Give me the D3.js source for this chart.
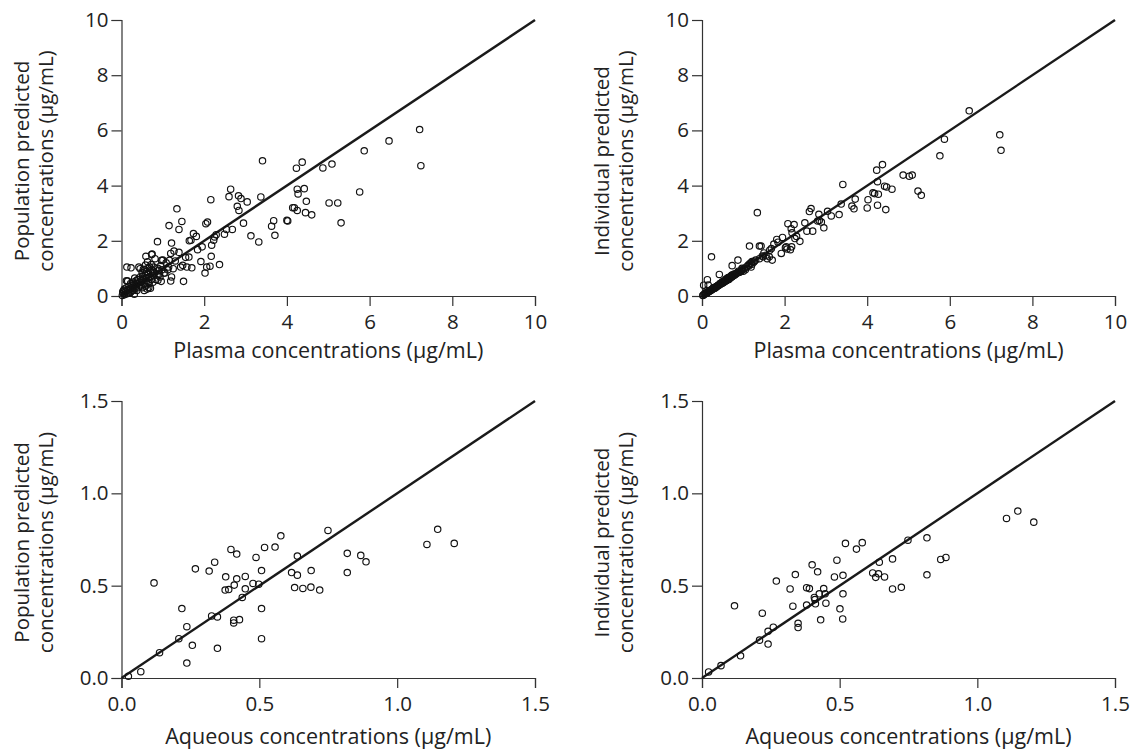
<!DOCTYPE html>
<html lang="en">
<head>
<meta charset="utf-8">
<title>Observed vs predicted concentrations</title>
<script src="https://cdn.jsdelivr.net/npm/d3@7/dist/d3.min.js"></script>
<style>
  body { margin: 0; background: #fff; }
  text { font-family: "Open Sans", "Noto Sans", sans-serif; fill: #222; }
</style>
</head>
<body>
<div id="chart"></div>
<script>
// plasma: observed (x), population predicted (top left), individual predicted (top right)
var plasmaObs = [7.21,7.24,6.47,5.87,5.76,5.31,5.23,5.02,5.09,4.87,
  4.60,4.45,4.47,4.42,4.37,4.23,4.25,4.27,4.25,4.18,
  4.14,4.02,4.00,3.71,3.68,3.63,3.41,3.37,3.32,3.13,
  3.04,2.95,2.89,2.83,2.84,2.80,2.64,2.60,2.68,2.49,
  2.54,2.37,2.29,2.25,2.23,2.16,2.18,2.17,2.14,2.08,
  2.04,2.06,2.02,1.95,1.92,1.84,1.81,1.74,1.68,1.64,
  1.70,1.63,1.50,1.46,1.39,1.34,1.39,1.48,1.43,1.27,
  1.21,1.15,1.19,1.19,1.21,1.25,1.16,1.30,1.14,1.55,
  1.58,1.05,1.00,0.97,0.87,0.88,0.96,1.03,0.81,0.73,
  0.59,0.70,0.68,0.65,0.58,0.61,0.53,0.42,0.23,0.13,
  0.15,0.32,0.31,0.93,0.90,0.77,0.74,0.72,0.63,0.45,
  0.12,0.04,0.05,0.08,0.10,0.12,0.15,0.18,0.20,0.22,
  0.25,0.27,0.28,0.30,0.32,0.35,0.36,0.38,0.40,0.42,
  0.44,0.46,0.48,0.50,0.50,0.52,0.55,0.55,0.57,0.58,
  0.60,0.62,0.63,0.65,0.67,0.70,0.72,0.75,0.78,0.80,
  0.83,0.88,0.92,0.95,0.02,0.03,0.07,0.13,0.17,0.20,
  0.23,0.26,0.29,0.34,0.37,0.39,0.43,0.47,0.51,0.56,
  0.59,0.64,0.66,0.69,0.73,0.76,0.86,0.98,1.08,1.12];
var plasmaPop = [6.03,4.72,5.62,5.26,3.77,2.65,3.37,3.37,4.78,4.64,
  2.94,3.02,3.43,3.89,4.85,4.63,3.87,3.70,3.10,3.20,
  3.20,2.72,2.74,2.20,2.73,2.53,4.90,3.59,1.96,2.18,
  3.41,2.64,3.53,3.63,3.10,3.25,3.87,3.60,2.41,2.24,
  2.41,1.14,2.22,2.14,2.02,3.49,1.84,1.44,1.08,2.68,
  2.62,1.05,0.83,1.78,1.25,1.68,2.16,2.26,2.02,2.00,
  1.02,1.41,0.53,2.70,2.41,3.16,1.58,1.11,1.05,1.63,
  1.92,2.55,1.54,0.54,0.69,0.99,1.29,1.27,1.05,1.40,
  1.05,0.83,1.30,1.29,1.97,0.57,0.53,0.83,1.35,1.50,
  1.44,0.28,1.05,0.50,1.12,0.89,0.97,1.05,1.02,1.05,
  0.54,0.65,0.06,0.69,0.93,0.90,1.52,1.14,1.24,0.99,
  0.55,0.10,0.20,0.05,0.15,0.30,0.20,0.35,0.10,0.45,
  0.30,0.20,0.50,0.40,0.25,0.55,0.35,0.45,0.30,0.60,
  0.40,0.70,0.50,0.30,0.85,0.60,0.20,0.45,0.75,0.35,
  0.55,0.25,0.80,0.65,0.45,0.90,0.60,0.75,1.05,0.85,
  0.60,1.00,0.80,1.10,0.02,0.15,0.25,0.08,0.12,0.25,
  0.15,0.40,0.30,0.45,0.20,0.60,0.50,0.35,0.70,0.95,
  0.65,1.00,0.30,0.70,0.95,0.50,0.75,0.95,1.20,0.95];
var plasmaInd = [5.84,5.28,6.71,5.68,5.08,3.65,3.80,4.34,4.38,4.38,
  3.87,3.13,3.95,3.98,4.76,4.56,4.14,3.69,3.29,3.71,
  3.74,3.49,3.19,3.51,3.16,3.26,4.04,3.33,2.95,2.90,
  3.07,2.47,2.68,2.96,2.74,2.72,3.17,3.06,2.35,2.65,
  2.35,1.98,2.16,2.08,2.59,2.44,2.29,1.78,1.68,2.62,
  1.78,1.70,1.75,2.12,1.54,1.95,2.05,1.88,1.72,1.66,
  1.30,1.42,1.56,1.45,1.81,3.02,1.35,1.42,1.81,1.26,
  1.25,1.81,1.20,1.05,1.15,1.22,1.18,1.30,1.10,1.48,
  1.35,0.95,0.90,1.00,1.30,0.85,0.92,1.00,0.80,1.10,
  0.62,0.68,0.70,0.60,0.55,0.58,0.52,0.78,1.42,0.59,
  0.40,0.32,0.28,0.88,0.86,0.74,0.72,0.75,0.66,0.45,
  0.20,0.39,0.06,0.08,0.12,0.10,0.15,0.17,0.19,0.22,
  0.24,0.27,0.30,0.29,0.30,0.33,0.35,0.37,0.38,0.41,
  0.42,0.47,0.45,0.47,0.52,0.50,0.52,0.54,0.58,0.55,
  0.57,0.60,0.63,0.62,0.64,0.71,0.69,0.73,0.80,0.77,
  0.81,0.90,0.88,0.93,0.02,0.03,0.07,0.13,0.16,0.21,
  0.22,0.26,0.28,0.33,0.36,0.38,0.44,0.46,0.49,0.56,
  0.60,0.67,0.63,0.66,0.76,0.74,0.84,0.96,1.06,1.12];

// aqueous humour: observed vs population predicted (bottom left)
var aqPopX = [1.147,1.108,1.207,0.749,0.819,0.819,0.868,0.887,0.688,0.687,
  0.719,0.658,0.628,0.617,0.638,0.638,0.578,0.557,0.519,0.488,
  0.508,0.498,0.477,0.449,0.449,0.438,0.418,0.409,0.397,0.418,
  0.389,0.376,0.378,0.338,0.318,0.268,0.118,0.219,0.327,0.348,
  0.407,0.407,0.428,0.508,0.508,0.348,0.257,0.237,0.208,0.237,
  0.138,0.070,0.025];
var aqPopY = [0.805,0.723,0.729,0.799,0.675,0.571,0.664,0.629,0.582,0.492,
  0.476,0.485,0.490,0.571,0.557,0.660,0.770,0.709,0.707,0.653,
  0.582,0.508,0.512,0.550,0.483,0.436,0.537,0.503,0.696,0.671,
  0.479,0.476,0.548,0.627,0.579,0.591,0.515,0.376,0.336,0.331,
  0.313,0.298,0.316,0.376,0.213,0.161,0.177,0.278,0.213,0.081,
  0.137,0.034,0.009];

// aqueous humour: observed vs individual predicted (bottom right)
var aqIndX = [1.147,1.106,1.205,0.748,0.817,0.817,0.867,0.886,0.692,0.692,
  0.724,0.663,0.631,0.620,0.641,0.644,0.582,0.561,0.521,0.490,
  0.512,0.501,0.481,0.447,0.450,0.442,0.420,0.408,0.400,0.426,
  0.380,0.390,0.412,0.380,0.339,0.320,0.270,0.118,0.219,0.330,
  0.349,0.349,0.431,0.512,0.511,0.259,0.240,0.209,0.240,0.140,
  0.069,0.024,0.410];
var aqIndY = [0.904,0.864,0.844,0.746,0.759,0.559,0.642,0.653,0.645,0.482,
  0.491,0.547,0.545,0.569,0.564,0.627,0.733,0.698,0.729,0.638,
  0.556,0.375,0.547,0.456,0.405,0.484,0.575,0.436,0.613,0.456,
  0.489,0.484,0.402,0.395,0.560,0.482,0.525,0.391,0.351,0.389,
  0.296,0.273,0.315,0.456,0.320,0.275,0.253,0.205,0.184,0.120,
  0.067,0.033,0.425];

var plasmaTicks = [0, 2, 4, 6, 8, 10];
var aqTicks = [0, 0.5, 1.0, 1.5];

var w = 1130, h = 751;
var svg = d3.select("#chart").append("svg")
  .attr("width", w).attr("height", h)
  .style("background", "#fff");

// one entry per panel
var panels = [
  {xs: plasmaObs, ys: plasmaPop, x0: 121.5, x1: 535, y0: 296, y1: 20, max: 10, ticks: plasmaTicks, fmt: d3.format("d"),
   ylab: ["Population predicted", "concentrations (\u00b5g/mL)"], xlab: "Plasma concentrations (\u00b5g/mL)", xoff: 62},
  {xs: plasmaObs, ys: plasmaInd, x0: 702, x1: 1115, y0: 296, y1: 20, max: 10, ticks: plasmaTicks, fmt: d3.format("d"),
   ylab: ["Individual predicted", "concentrations (\u00b5g/mL)"], xlab: "Plasma concentrations (\u00b5g/mL)", xoff: 62},
  {xs: aqPopX, ys: aqPopY, x0: 121.5, x1: 535, y0: 678, y1: 401, max: 1.5, ticks: aqTicks, fmt: d3.format(".1f"),
   ylab: ["Population predicted", "concentrations (\u00b5g/mL)"], xlab: "Aqueous concentrations (\u00b5g/mL)", xoff: 66},
  {xs: aqIndX, ys: aqIndY, x0: 702, x1: 1115, y0: 678, y1: 401, max: 1.5, ticks: aqTicks, fmt: d3.format(".1f"),
   ylab: ["Individual predicted", "concentrations (\u00b5g/mL)"], xlab: "Aqueous concentrations (\u00b5g/mL)", xoff: 66}
];

panels.forEach(function(p) {
  var x = d3.scaleLinear().domain([0, p.max]).range([p.x0, p.x1]);
  var y = d3.scaleLinear().domain([0, p.max]).range([p.y0, p.y1]);
  var g = svg.append("g");

  // axes, ticks pointing outwards
  var xAxis = d3.axisBottom(x).tickValues(p.ticks).tickFormat(p.fmt).tickSizeOuter(0).tickSize(10).tickPadding(8);
  var yAxis = d3.axisLeft(y).tickValues(p.ticks).tickFormat(p.fmt).tickSizeOuter(0).tickSize(10).tickPadding(3);
  var gx = g.append("g").attr("transform", "translate(0," + p.y0 + ")").call(xAxis);
  var gy = g.append("g").attr("transform", "translate(" + p.x0 + ",0)").call(yAxis);
  [gx, gy].forEach(function(a) {
    a.select(".domain").attr("stroke", "#333").attr("stroke-width", 1.2);
    a.selectAll(".tick line").attr("stroke", "#333").attr("stroke-width", 1.2);
    a.selectAll(".tick text").attr("font-size", "20.5px").attr("fill", "#222")
      .style("font-family", "'Open Sans', 'Noto Sans', sans-serif");
  });

  // line of identity
  g.append("line")
    .attr("x1", x(0)).attr("y1", y(0))
    .attr("x2", x(p.max)).attr("y2", y(p.max))
    .attr("stroke", "#1a1a1a").attr("stroke-width", 2.4);

  // observed vs predicted points
  g.selectAll("circle")
    .data(d3.range(p.xs.length))
    .enter()
    .append("circle")
    .attr("cx", function(i) { return x(p.xs[i]); })
    .attr("cy", function(i) { return y(p.ys[i]); })
    .attr("r", 3.2)
    .attr("fill", "none")
    .attr("stroke", "#111")
    .attr("stroke-width", 1.15);

  // axis titles
  g.append("text")
    .attr("x", (p.x0 + p.x1) / 2)
    .attr("y", p.y0 + p.xoff)
    .attr("text-anchor", "middle")
    .attr("font-size", "21.5px")
    .text(p.xlab);

  var cy = (p.y0 + p.y1) / 2 + 3;
  var yl = g.append("text")
    .attr("transform", "translate(" + (p.x0 - 93) + "," + cy + ") rotate(-90)")
    .attr("text-anchor", "middle")
    .attr("font-size", "20.5px");
  yl.append("tspan").attr("x", 0).attr("dy", 0).text(p.ylab[0]);
  yl.append("tspan").attr("x", 0).attr("dy", 24).text(p.ylab[1]);
});
</script>
</body>
</html>
